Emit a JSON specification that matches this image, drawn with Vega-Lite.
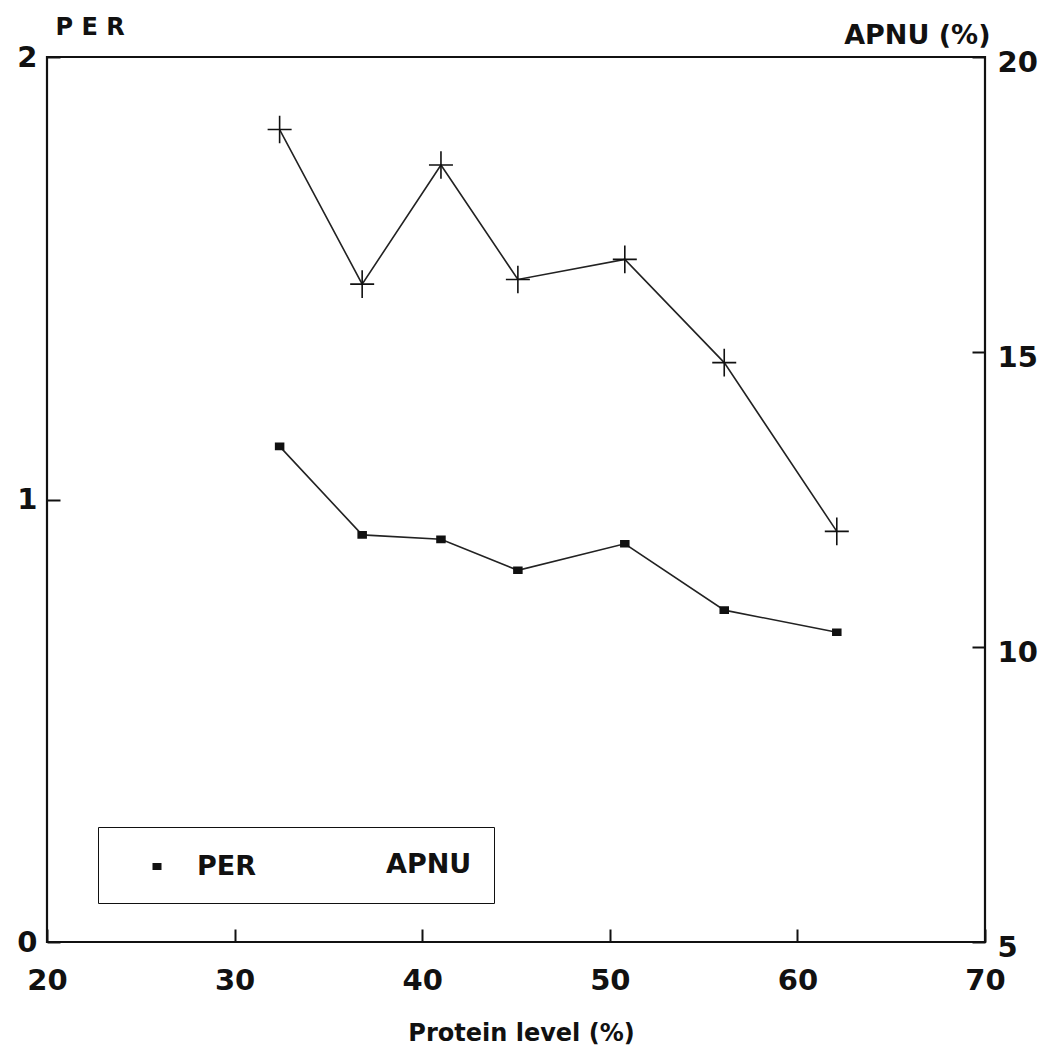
{
  "$schema": "https://vega.github.io/schema/vega-lite/v6.json",
  "width": 938,
  "height": 885,
  "autosize": "none",
  "padding": {"left": 47, "top": 57, "right": 68, "bottom": 110},
  "background": "white",
  "config": {
    "view": {"stroke": "#111111", "strokeWidth": 2.2},
    "font": "DejaVu Sans",
    "axis": {
      "grid": false,
      "domain": false,
      "tickColor": "#111111",
      "tickWidth": 2,
      "tickSize": -13,
      "labelFont": "DejaVu Sans",
      "labelFontWeight": "bold",
      "labelFontSize": 29,
      "labelColor": "#111111",
      "labelOverlap": false,
      "labelFlush": false,
      "titleFont": "DejaVu Sans",
      "titleFontWeight": "bold",
      "titleColor": "#111111",
      "format": "d"
    }
  },
  "data": {
    "values": [
      {"protein": 32.4, "series": "PER", "value": 1.12},
      {"protein": 36.8, "series": "PER", "value": 0.92},
      {"protein": 41.0, "series": "PER", "value": 0.91},
      {"protein": 45.1, "series": "PER", "value": 0.84},
      {"protein": 50.8, "series": "PER", "value": 0.90},
      {"protein": 56.1, "series": "PER", "value": 0.75},
      {"protein": 62.1, "series": "PER", "value": 0.70},
      {"protein": 32.4, "series": "APNU", "value": 18.77},
      {"protein": 36.8, "series": "APNU", "value": 16.15},
      {"protein": 41.0, "series": "APNU", "value": 18.17},
      {"protein": 45.1, "series": "APNU", "value": 16.23},
      {"protein": 50.8, "series": "APNU", "value": 16.57},
      {"protein": 56.1, "series": "APNU", "value": 14.82},
      {"protein": 62.1, "series": "APNU", "value": 11.96}
    ]
  },
  "encoding": {
    "x": {
      "field": "protein",
      "type": "quantitative",
      "scale": {"domain": [20, 70], "nice": false, "zero": false},
      "axis": {
        "title": "Protein level (%)",
        "values": [20, 30, 40, 50, 60, 70],
        "labelPadding": 37,
        "titleFontSize": 24,
        "titleX": 474,
        "titleY": 98,
        "titleAlign": "center",
        "titleBaseline": "alphabetic"
      }
    }
  },
  "layer": [
    {
      "transform": [{"filter": "datum.series === 'PER'"}],
      "encoding": {
        "y": {
          "field": "value",
          "type": "quantitative",
          "scale": {"domain": [0, 2], "nice": false, "zero": false},
          "axis": {
            "orient": "left",
            "values": [0, 1, 2],
            "title": "P E R",
            "titleAngle": 0,
            "titleX": 8,
            "titleY": -23,
            "titleAlign": "left",
            "titleBaseline": "alphabetic",
            "titleFontSize": 24,
            "labelPadding": 23
          }
        }
      },
      "layer": [
        {"mark": {"type": "line", "color": "#222222", "strokeWidth": 1.6}},
        {
          "mark": {"type": "point", "shape": "M-0.33,-0.25H0.33V0.25H-0.33Z", "filled": true, "fill": "#111111", "stroke": "#111111", "strokeWidth": 1.6, "size": 576, "opacity": 1}
        },
        {
          "mark": {"type": "point", "filled": true, "fill": "#111111", "stroke": "#111111", "strokeWidth": 1.6, "opacity": 0},
          "encoding": {
            "shape": {
              "field": "series",
              "type": "nominal",
              "scale": {
                "domain": ["PER", "APNU"],
                "range": ["M-1.87,0H1.87M-0.3,-0.23H0.3V0.23H-0.3Z", "M-1.87,0H1.87M0,-0.8V0.8"]
              },
              "legend": {
                "title": null,
                "orient": "none",
                "legendX": 51,
                "legendY": 770,
                "direction": "horizontal",
                "columns": 2,
                "strokeColor": "#111111",
                "padding": 22,
                "symbolSize": 900,
                "symbolOffset": 21,
                "labelOffset": 24,
                "columnPadding": 52,
                "labelFont": "DejaVu Sans",
                "labelFontWeight": "bold",
                "labelFontSize": 27,
                "labelColor": "#111111",
                "symbolOpacity": 1,
                "symbolFillColor": "#111111",
                "symbolStrokeColor": "#111111",
                "symbolStrokeWidth": 1.6
              }
            }
          }
        }
      ]
    },
    {
      "transform": [{"filter": "datum.series === 'APNU'"}],
      "encoding": {
        "y": {
          "field": "value",
          "type": "quantitative",
          "scale": {"domain": [5, 20], "nice": false, "zero": false},
          "axis": {
            "orient": "right",
            "values": [5, 10, 15, 20],
            "title": "APNU (%)",
            "titleAngle": 0,
            "titleX": 5,
            "titleY": -14,
            "titleAlign": "right",
            "titleBaseline": "alphabetic",
            "titleFontSize": 27,
            "labelPadding": 25,
            "labelOffset": 5
          }
        }
      },
      "layer": [
        {"mark": {"type": "line", "color": "#222222", "strokeWidth": 1.6}},
        {
          "mark": {"type": "point", "shape": "M-1,0H1M0,-1.15V1.15", "filled": true, "fill": "#111111", "stroke": "#111111", "strokeWidth": 1.6, "size": 576, "opacity": 1}
        }
      ]
    }
  ],
  "resolve": {"scale": {"y": "independent"}, "axis": {"y": "independent"}}
}
